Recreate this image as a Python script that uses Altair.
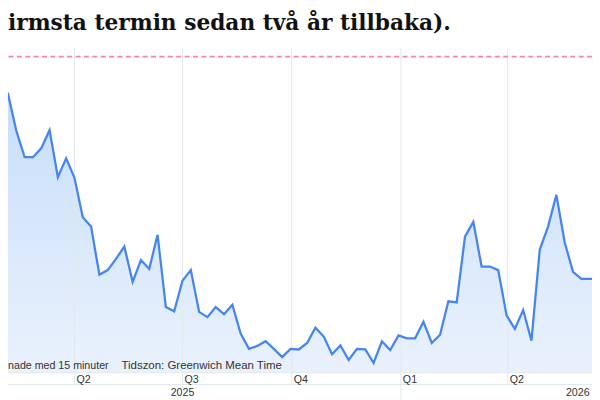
import altair as alt
import pandas as pd

# Texts (chart is a crop, so the texts are cut at the left edge)

TITLE_TEXT = 'irmsta termin sedan två år tillbaka).'
NOTE_DELAY = 'nade med 15 minuter'
NOTE_TZ = 'Tidszon: Greenwich Mean Time'

# Data

WEEKS = [d.strftime('%Y-%m-%d') for d in pd.date_range('2025-01-28', periods=73, freq='7D')]
PRICES = [
  94.5, 92.7, 86.4, 81.9, 81.9, 83.4, 86.5, 78.5, 81.7, 78.4,
  71.7, 70.1, 61.9, 62.7, 64.6, 66.7, 60.7, 64.4, 62.9, 68.7,
  56.4, 55.7, 60.9, 62.7, 55.6, 54.7, 56.4, 55.2, 56.8, 51.9,
  49.3, 49.8, 50.6, 49.3, 47.9, 49.3, 49.2, 50.3, 52.9, 51.4,
  48.4, 49.9, 47.4, 49.3, 49.2, 46.9, 50.6, 49.1, 51.6, 51.1,
  51.1, 53.9, 50.3, 51.7, 57.4, 57.2, 68.4, 70.9, 63.3, 63.3,
  62.7, 55.0, 52.7, 55.9, 50.7, 66.2, 70.1, 75.5, 67.4, 62.4,
  61.2, 61.2, 61.2
]
THRESHOLD = 99.0

GRID_VALUES = [50, 60, 70, 80, 90]
QUARTER_STARTS = ['2025-04-01', '2025-07-01', '2025-10-01', '2026-01-01', '2026-04-01']
QUARTER_LABELS = ['Q2', 'Q3', 'Q4', 'Q1', 'Q2']
YEAR_BREAKS = ['2026-01-01']
YEAR_CENTRES = ['2025-07-01', '2026-05-30']
YEAR_LABELS = ['2025', '2026']

# Style

W, H = 592, 329
ROW = 12
GRID = '#e2e9ec'
LINE = '#4585f3'
DASH = '#f2879f'
TEXT = '#333333'
SANS = 'Liberation Sans'

x_scale = alt.Scale(
  type='utc',
  domain=[
    alt.DateTime(year=2025, month=2, date=4, utc=True),
    alt.DateTime(year=2026, month=6, date=11, utc=True)
  ]
)
y_scale = alt.Scale(domain=[45.25, 100.45], nice=False, zero=False)

series = pd.DataFrame({'date': WEEKS, 'price': PRICES})
quarters = pd.DataFrame({'date': QUARTER_STARTS, 'label': QUARTER_LABELS})
years = pd.DataFrame({'date': YEAR_CENTRES, 'label': YEAR_LABELS})
breaks = pd.DataFrame({'date': YEAR_BREAKS})

x = alt.X('date:T', scale=x_scale, axis=None)
y = alt.Y(
  'price:Q', scale=y_scale,
  axis=alt.Axis(
    values=GRID_VALUES, grid=True, gridColor=GRID, labels=False,
    ticks=False, domain=False, title=None
  )
)

fill = alt.Gradient(
  gradient='linear',
  stops=[
    alt.GradientStop(color='#c5ddfa', offset=0),
    alt.GradientStop(color='#e5effc', offset=0.45),
    alt.GradientStop(color='#ffffff', offset=1)
  ],
  x1=1, x2=1, y1=0, y2=1
)

area = alt.Chart(series).mark_area(color=fill, clip=True).encode(x=x, y=y)
line = alt.Chart(series).mark_line(color=LINE, strokeWidth=2.3, clip=True).encode(x=x, y=y)

threshold = alt.Chart(pd.DataFrame({'v': [THRESHOLD]})).mark_rule(
  color=DASH, strokeWidth=1.6, strokeDash=[5, 3.5]
).encode(y=alt.Y('v:Q', scale=y_scale, axis=None))

quarter_grid = alt.Chart(quarters).mark_rule(color=GRID, strokeWidth=1).encode(
  x=x, y=alt.value(0), y2=alt.value(H + ROW)
)
row_lines = alt.layer(
  *[
    alt.Chart(pd.DataFrame({'r': [0]})).mark_rule(color=GRID, strokeWidth=1).encode(
      x=alt.value(0), x2=alt.value(W), y=alt.value(pos)
    )
    for pos in (H, H + ROW)
  ]
)
year_grid = alt.Chart(breaks).mark_rule(color=GRID, strokeWidth=1).encode(
  x=x, y=alt.value(H + ROW), y2=alt.value(H + 40)
)

quarter_text = alt.Chart(quarters).mark_text(
  align='left', baseline='middle', dx=2, font=SANS, fontSize=10.8, color=TEXT
).encode(x=x, y=alt.value(H + ROW / 2 + 1), text='label:N')
year_text = alt.Chart(years).mark_text(
  align='center', baseline='middle', font=SANS, fontSize=10.8, color=TEXT
).encode(x=x, y=alt.value(H + 21), text='label:N')

note_delay = alt.Chart(pd.DataFrame({'t': [NOTE_DELAY]})).mark_text(
  align='right', baseline='alphabetic', font=SANS, fontSize=10.8, color=TEXT
).encode(x=alt.value(102), y=alt.value(H - 3.5), text='t:N')
note_tz = alt.Chart(pd.DataFrame({'t': [NOTE_TZ]})).mark_text(
  align='left', baseline='alphabetic', font=SANS, fontSize=11.6, color=TEXT
).encode(x=alt.value(115), y=alt.value(H - 3.5), text='t:N')

title = alt.Chart(pd.DataFrame({'t': [TITLE_TEXT]})).mark_text(
  align='left', baseline='alphabetic', font='DejaVu Serif', fontWeight='bold',
  fontSize=22, color='#111111'
).encode(x=alt.value(0), y=alt.value(-18.5), text='t:N')

chart = alt.layer(
  area, quarter_grid, row_lines, year_grid, threshold, line,
  quarter_text, year_text, note_delay, note_tz, title
).properties(
  width=W, height=H,
  padding={'left': 0, 'top': 38, 'right': 0, 'bottom': 25},
  autosize=alt.AutoSizeParams(type='none')
).configure_view(
  stroke='transparent'
)

chart.save('out.html', embed_options={'renderer': 'svg', 'actions': False})
